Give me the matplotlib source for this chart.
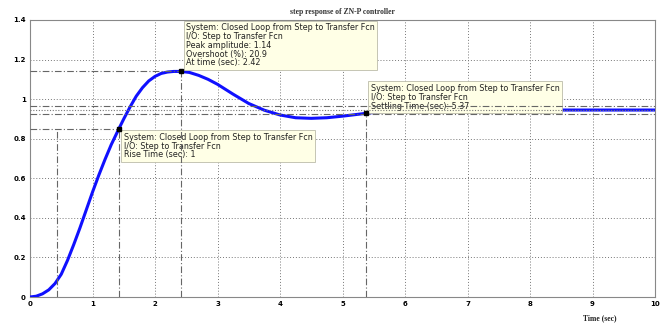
import matplotlib
matplotlib.use("Agg")
import matplotlib.pyplot as plt

# step response
t = [0, 0.1, 0.2, 0.3, 0.4, 0.5, 0.6, 0.7, 0.8, 0.9, 1.0, 1.1, 1.2, 1.3, 1.42, 1.5,
     1.6, 1.7, 1.8, 1.9, 2.0, 2.1, 2.2, 2.3, 2.42, 2.55, 2.7, 2.85, 3.0, 3.25, 3.5,
     3.75, 4.0, 4.25, 4.5, 4.75, 5.0, 5.37, 5.6, 6.0, 7.0, 8.0, 9.0, 10.0]
y = [0, 0.004, 0.016, 0.036, 0.068, 0.115, 0.185, 0.265, 0.35, 0.44, 0.53, 0.615, 0.695, 0.77, 0.849, 0.90,
     0.96, 1.015, 1.058, 1.092, 1.115, 1.13, 1.137, 1.14, 1.14, 1.135, 1.12, 1.10, 1.075, 1.025, 0.978,
     0.944, 0.92, 0.906, 0.903, 0.906, 0.914, 0.928, 0.936, 0.942, 0.944, 0.945, 0.945, 0.945]

# characteristics shown by the data tips
rise_t = [0.43, 1.42]
rise_y = 0.849
peak_t, peak_y = 2.42, 1.14
settle_t, settle_y = 5.37, 0.928
final_y = 0.945
bounds = [0.966, 0.926]

xticks = list(range(0, 11))
yticks = [0, 0.2, 0.4, 0.6, 0.8, 1, 1.2, 1.4]
yticklabels = ["0", "0.2", "0.4", "0.6", "0.8", "1", "1.2", "1.4"]

fig = plt.figure(figsize=(6.62, 3.26), dpi=100)
ax = fig.add_axes([30 / 662, 1 - 297 / 326, 625 / 662, 277 / 326])

ax.set_xlim(0, 10)
ax.set_ylim(0, 1.4)
ax.set_xticks(xticks)
ax.set_yticks(yticks)
ax.set_xticklabels([str(v) for v in xticks], fontsize=5, fontweight="bold")
ax.set_yticklabels(yticklabels, fontsize=5, fontweight="bold")
ax.tick_params(length=0, pad=3)
ax.grid(True, linestyle=(0, (1, 2)), color="#777777", linewidth=0.7)
for s in ax.spines.values():
    s.set_color("#888888")
    s.set_linewidth(0.8)

ref = dict(color="#666666", linestyle=(0, (6, 2, 1, 2)), linewidth=0.8, zorder=11)

# rise time
ax.plot([0, rise_t[1]], [rise_y, rise_y], **ref)
for rt in rise_t:
    ax.plot([rt, rt], [0, rise_y], **ref)
# peak
ax.plot([0, peak_t], [peak_y, peak_y], **ref)
ax.plot([peak_t, peak_t], [0, peak_y], **ref)
# settling
ax.plot([settle_t, settle_t], [0, settle_y], **ref)
for b in bounds:
    ax.plot([0, 10], [b, b], **ref)
ax.plot([0, 10], [final_y, final_y], color="#777777", linestyle=(0, (1, 1.5)),
        linewidth=0.8, zorder=11)

ax.plot(t, y, color="#1010ff", linewidth=2.2, zorder=3)

for px, py in [(rise_t[1], rise_y), (peak_t, peak_y), (settle_t, settle_y)]:
    ax.plot(px, py, marker="s", color="black", markersize=3.5, zorder=12)

box = dict(boxstyle="square,pad=0.3", facecolor="#ffffe6", edgecolor="#bbbbaa",
           linewidth=0.6)
font = dict(fontsize=5.8, family="DejaVu Sans", color="#222222",
            linespacing=0.98, va="top", ha="left", zorder=10)

ax.text(2.5, 1.385,
        "System: Closed Loop from Step to Transfer Fcn\n"
        "I/O: Step to Transfer Fcn\n"
        f"Peak amplitude: {peak_y:.2f}\n"
        "Overshoot (%): 20.9\n"
        f"At time (sec): {peak_t:.2f}",
        bbox=box, **font)
ax.text(1.5, 0.83,
        "System: Closed Loop from Step to Transfer Fcn\n"
        "I/O: Step to Transfer Fcn\n"
        "Rise Time (sec): 1",
        bbox=box, **font)
ax.text(5.45, 1.077,
        "System: Closed Loop from Step to Transfer Fcn\n"
        "I/O: Step to Transfer Fcn\n"
        f"Settling Time (sec): {settle_t:.2f}",
        bbox=box, **font)

ax.set_title("step response of ZN-P controller", fontsize=5.5, fontweight="bold",
             family="Liberation Serif", color="#333333", pad=4)
fig.text(600 / 662, 1 - 318 / 326, "Time (sec)", fontsize=5.5, fontweight="bold",
         family="Liberation Serif", ha="center", va="center", color="#222222")

fig.savefig("out.png", dpi=100)
